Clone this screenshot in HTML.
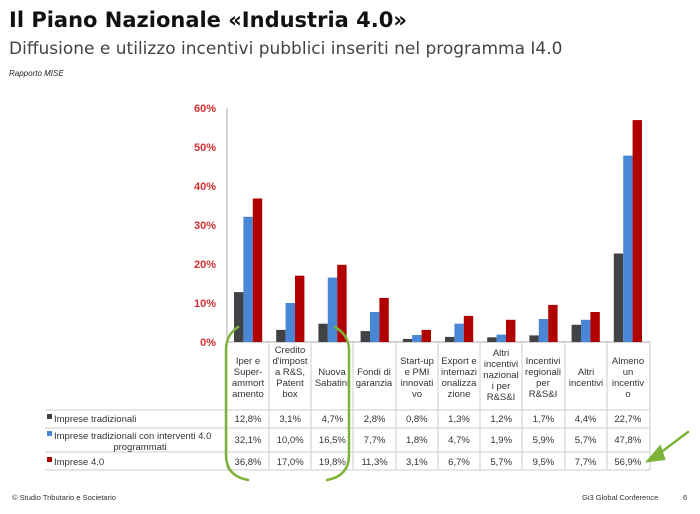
<!DOCTYPE html>
<html><head><meta charset="utf-8"><style>
html,body{margin:0;padding:0;background:#fff;width:700px;height:514px;overflow:hidden;font-family:"Liberation Sans",sans-serif}
</style></head><body>
<svg width="700" height="514" xmlns="http://www.w3.org/2000/svg" font-family="Liberation Sans, sans-serif">
<text x="9" y="27" font-size="21" font-weight="bold" fill="#111" font-family="DejaVu Sans, sans-serif">Il Piano Nazionale «Industria 4.0»</text>
<text x="9" y="54" font-size="17" fill="#444" font-family="DejaVu Sans, sans-serif">Diffusione e utilizzo incentivi pubblici inseriti nel programma I4.0</text>
<text x="9" y="76" font-size="8" font-style="italic" fill="#222">Rapporto MISE</text>
<g font-size="11" font-weight="bold" fill="#d03030" text-anchor="end">
<text x="216" y="112">60%</text><text x="216" y="151">50%</text><text x="216" y="190">40%</text><text x="216" y="229">30%</text><text x="216" y="268">20%</text><text x="216" y="307">10%</text><text x="216" y="346">0%</text>
</g>
<line x1="227" y1="108" x2="227" y2="342" stroke="#aaa"/>
<line x1="227" y1="342" x2="650" y2="342" stroke="#aaa"/>
<g>
<rect x="234" y="292.1" width="9.4" height="49.9" fill="#404246"/><rect x="243.4" y="216.8" width="9.4" height="125.2" fill="#4a86d6"/><rect x="252.8" y="198.5" width="9.4" height="143.5" fill="#b00000"/>
<rect x="276.2" y="329.9" width="9.4" height="12.1" fill="#404246"/><rect x="285.6" y="303" width="9.4" height="39" fill="#4a86d6"/><rect x="295" y="275.7" width="9.4" height="66.3" fill="#b00000"/>
<rect x="318.4" y="323.7" width="9.4" height="18.3" fill="#404246"/><rect x="327.8" y="277.6" width="9.4" height="64.4" fill="#4a86d6"/><rect x="337.2" y="264.8" width="9.4" height="77.2" fill="#b00000"/>
<rect x="360.6" y="331.1" width="9.4" height="10.9" fill="#404246"/><rect x="370" y="312" width="9.4" height="30" fill="#4a86d6"/><rect x="379.4" y="297.9" width="9.4" height="44.1" fill="#b00000"/>
<rect x="402.8" y="338.9" width="9.4" height="3.1" fill="#404246"/><rect x="412.2" y="335" width="9.4" height="7" fill="#4a86d6"/><rect x="421.6" y="329.9" width="9.4" height="12.1" fill="#b00000"/>
<rect x="445" y="336.9" width="9.4" height="5.1" fill="#404246"/><rect x="454.4" y="323.7" width="9.4" height="18.3" fill="#4a86d6"/><rect x="463.8" y="315.9" width="9.4" height="26.1" fill="#b00000"/>
<rect x="487.2" y="337.3" width="9.4" height="4.7" fill="#404246"/><rect x="496.6" y="334.6" width="9.4" height="7.4" fill="#4a86d6"/><rect x="506" y="319.8" width="9.4" height="22.2" fill="#b00000"/>
<rect x="529.4" y="335.4" width="9.4" height="6.6" fill="#404246"/><rect x="538.8" y="319" width="9.4" height="23" fill="#4a86d6"/><rect x="548.2" y="304.9" width="9.4" height="37.1" fill="#b00000"/>
<rect x="571.6" y="324.8" width="9.4" height="17.2" fill="#404246"/><rect x="581" y="319.8" width="9.4" height="22.2" fill="#4a86d6"/><rect x="590.4" y="312" width="9.4" height="30" fill="#b00000"/>
<rect x="613.8" y="253.5" width="9.4" height="88.5" fill="#404246"/><rect x="623.2" y="155.6" width="9.4" height="186.4" fill="#4a86d6"/><rect x="632.6" y="120.1" width="9.4" height="221.9" fill="#b00000"/>
</g>
<g stroke="#ccc" stroke-width="1">
<line x1="45" y1="410" x2="650" y2="410"/><line x1="45" y1="428" x2="650" y2="428"/><line x1="45" y1="452" x2="650" y2="452"/><line x1="45" y1="470" x2="650" y2="470"/>
<line x1="227" y1="342" x2="227" y2="470"/><line x1="269" y1="342" x2="269" y2="470"/><line x1="311" y1="342" x2="311" y2="470"/><line x1="353" y1="342" x2="353" y2="470"/><line x1="396" y1="342" x2="396" y2="470"/><line x1="438" y1="342" x2="438" y2="470"/><line x1="480" y1="342" x2="480" y2="470"/><line x1="522" y1="342" x2="522" y2="470"/><line x1="565" y1="342" x2="565" y2="470"/><line x1="607" y1="342" x2="607" y2="470"/><line x1="650" y1="342" x2="650" y2="470"/>
</g>
<g font-size="9.5" fill="#333" text-anchor="middle">
<text x="248" y="364">Iper e</text><text x="248" y="375">Super-</text><text x="248" y="386">ammort</text><text x="248" y="397">amento</text>
<text x="290" y="353">Credito</text><text x="290" y="364">d'impost</text><text x="290" y="375">a R&amp;S,</text><text x="290" y="386">Patent</text><text x="290" y="397">box</text>
<text x="332" y="375">Nuova</text><text x="332" y="386">Sabatini</text>
<text x="374" y="375">Fondi di</text><text x="374" y="386">garanzia</text>
<text x="417" y="364">Start-up</text><text x="417" y="375">e PMI</text><text x="417" y="386">innovati</text><text x="417" y="397">vo</text>
<text x="459" y="364">Export e</text><text x="459" y="375">internazi</text><text x="459" y="386">onalizza</text><text x="459" y="397">zione</text>
<text x="501" y="356">Altri</text><text x="501" y="367">incentivi</text><text x="501" y="378">nazional</text><text x="501" y="389">i per</text><text x="501" y="400">R&amp;S&amp;I</text>
<text x="543" y="364">Incentivi</text><text x="543" y="375">regionali</text><text x="543" y="386">per</text><text x="543" y="397">R&amp;S&amp;I</text>
<text x="586" y="375">Altri</text><text x="586" y="386">incentivi</text>
<text x="628" y="364">Almeno</text><text x="628" y="375">un</text><text x="628" y="386">incentiv</text><text x="628" y="397">o</text>
</g>
<g font-size="9.5" fill="#333">
<rect x="47" y="414" width="5" height="5" fill="#404246"/><text x="54" y="422">Imprese tradizionali</text>
<rect x="47" y="431" width="5" height="5" fill="#4a86d6"/><text x="54" y="439">Imprese tradizionali con interventi 4.0</text><text x="140" y="450" text-anchor="middle">programmati</text>
<rect x="47" y="457" width="5" height="5" fill="#b00000"/><text x="54" y="465">Imprese 4.0</text>
</g>
<g font-size="9.5" fill="#333" text-anchor="middle">
<text x="248" y="422">12,8%</text><text x="290.2" y="422">3,1%</text><text x="332.4" y="422">4,7%</text><text x="374.6" y="422">2,8%</text><text x="416.8" y="422">0,8%</text><text x="459" y="422">1,3%</text><text x="501.2" y="422">1,2%</text><text x="543.4" y="422">1,7%</text><text x="585.6" y="422">4,4%</text><text x="627.8" y="422">22,7%</text>
<text x="248" y="443">32,1%</text><text x="290.2" y="443">10,0%</text><text x="332.4" y="443">16,5%</text><text x="374.6" y="443">7,7%</text><text x="416.8" y="443">1,8%</text><text x="459" y="443">4,7%</text><text x="501.2" y="443">1,9%</text><text x="543.4" y="443">5,9%</text><text x="585.6" y="443">5,7%</text><text x="627.8" y="443">47,8%</text>
<text x="248" y="465">36,8%</text><text x="290.2" y="465">17,0%</text><text x="332.4" y="465">19,8%</text><text x="374.6" y="465">11,3%</text><text x="416.8" y="465">3,1%</text><text x="459" y="465">6,7%</text><text x="501.2" y="465">5,7%</text><text x="543.4" y="465">9,5%</text><text x="585.6" y="465">7,7%</text><text x="627.8" y="465">56,9%</text>
</g>
<g fill="none" stroke="#7db33a" stroke-width="2.5" stroke-linecap="round">
<path d="M238 327 Q226 335 226 350 L226 455 Q226 476 248 480"/>
<path d="M335 327 Q349 335 349 350 L349 455 Q349 476 327 480"/>
<path d="M688 432 L656 456"/><path d="M648 461 L660 447 L664 459 Z" fill="#7db33a"/>
</g>
<text x="12" y="500" font-size="7.5" fill="#333">© Studio Tributario e Societario</text>
<text x="582" y="500" font-size="7.5" fill="#333">Gi3 Global Conference</text>
<text x="683" y="500" font-size="7.5" fill="#333">6</text>
</svg>
</body></html>
